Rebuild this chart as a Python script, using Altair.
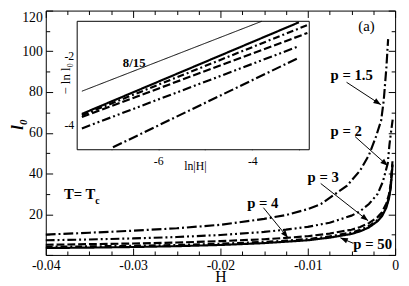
import math
import altair as alt
import pandas as pd

# ---------------- values ----------------
# main panel: l0 versus H, one series per p
H_p1_5 = [-0.04, -0.035, -0.03, -0.025, -0.02, -0.015, -0.0125, -0.01, -0.0085, -0.007,
          -0.0055, -0.004, -0.003, -0.0022, -0.0016, -0.0013, -0.001, -0.0008]
l0_p1_5 = [10.0, 10.9, 11.9, 13.1, 14.8, 17.7, 19.6, 22.5, 25.0, 29.5,
           34.0, 41.5, 49.0, 58.0, 66.0, 76.0, 92.0, 106.0]

H_p2 = [-0.04, -0.035, -0.03, -0.025, -0.02, -0.015, -0.0125, -0.01, -0.0075, -0.005,
        -0.004, -0.003, -0.002, -0.0014, -0.00084, -0.00065, -0.00045, -0.00028]
l0_p2 = [7.2, 7.6, 8.1, 8.8, 9.8, 11.3, 12.4, 13.8, 15.8, 19.3,
         21.5, 25.0, 30.0, 36.0, 45.0, 54.0, 61.0, 66.5]

H_low = [-0.04, -0.035, -0.03, -0.025, -0.02, -0.015, -0.0125, -0.01, -0.0075, -0.005,
         -0.004, -0.003, -0.002, -0.0015, -0.001, -0.0007, -0.0005, -0.0003]
l0_p3 = [5.0, 5.3, 5.6, 6.1, 6.8, 7.7, 8.4, 9.2, 10.5, 12.4,
         13.7, 15.6, 18.6, 21.0, 25.3, 29.8, 35.0, 46.0]
l0_p4 = [4.0, 4.2, 4.5, 4.9, 5.5, 6.4, 7.0, 7.8, 9.1, 11.0,
         12.3, 14.2, 17.2, 19.6, 23.9, 28.4, 33.5, 44.5]
l0_p50 = [3.4, 3.6, 3.9, 4.3, 4.9, 5.8, 6.5, 7.2, 8.5, 10.3,
          11.6, 13.5, 16.6, 19.0, 23.3, 27.8, 33.0, 44.0]

# inset: -ln l0 versus ln|H| (straight lines, end points)
inset_names = ["8/15", "1.5", "2", "3", "4", "50"]
inset_x_start = [-7.62, -6.96, -7.62, -7.62, -7.62, -7.62]
inset_y_start = [-3.02, -4.65, -4.10, -3.77, -3.72, -3.68]
inset_x_end = [-3.80, -3.00, -3.04, -2.83, -2.83, -3.01]
inset_y_end = [-0.99, -2.04, -1.73, -1.33, -1.10, -1.02]

# annotations (main panel data coordinates)
ann_text = ["p = 1.5", "p = 2", "p = 3", "p = 4", "p = 50"]
ann_H = [-0.00739, -0.00739, -0.01002, -0.01694, -0.00478]
ann_v = [85.9, 58.6, 35.7, 22.9, 2.9]
arrow_H0 = [-0.00556, -0.00458, -0.00852, -0.01508, -0.00478]
arrow_v0 = [84.8, 58.1, 35.1, 23.2, 5.7]
arrow_H1 = [-0.00163, -0.00084, -0.00309, -0.01227, -0.00627]
arrow_v1 = [73.8, 43.8, 16.8, 8.4, 8.4]

# tick values and labels
x_major = [-0.04, -0.03, -0.02, -0.01, 0.0]
x_major_labels = ["-0.04", "-0.03", "-0.02", "-0.01", "0"]
x_minor = [-0.0375, -0.035, -0.0325, -0.0275, -0.025, -0.0225, -0.0175, -0.015,
           -0.0125, -0.0075, -0.005, -0.0025]
y_major = [0, 20, 40, 60, 80, 100, 120]
y_major_labels = ["", "20", "40", "60", "80", "100", "120"]
y_minor = [10, 30, 50, 70, 90, 110]
ix_major = [-6, -4]
ix_major_labels = ["-6", "-4"]
ix_minor = [-7, -5, -3]
iy_major = [-4, -2]
iy_major_labels = ["-4", "-2"]
iy_minor = [-3]

# ---------------- layout / style ----------------
PW, PH = 356, 249
FONT = "Liberation Serif"
X_DOM = [-0.04, 0.0]
Y_DOM = [0, 120]
IX_DOM = [-7.72, -2.79]
IY_DOM = [-4.72, -0.99]
IX_RANGE = [32.0, 268.5]
IY_RANGE = [141.8, 10.9]

style_names = ["8/15", "1.5", "2", "3", "4", "50"]
style_dash = [[1, 0], [10, 3, 2, 3], [9, 3, 2, 3, 2, 3], [8, 3], [7, 3, 2, 3], [1, 0]]


def neg(n):
    return alt.ExprRef(expr=str(-n))


def label_expr(values, labels):
    vals = ",".join(repr(float(v)) for v in values)
    labs = ",".join("'" + s + "'" for s in labels)
    return f"[{labs}][indexof([{vals}], datum.value)]"


dash_enc = alt.StrokeDash("s:N", scale=alt.Scale(domain=style_names, range=style_dash), legend=None)
width_enc = alt.condition("datum.s == '8/15'", alt.value(1), alt.value(2.2))

# ---------------- data frames ----------------
rows = []
for name, hs, ls in [("1.5", H_p1_5, l0_p1_5), ("2", H_p2, l0_p2), ("3", H_low, l0_p3),
                     ("4", H_low, l0_p4), ("50", H_low, l0_p50)]:
    for h, l in zip(hs, ls):
        rows.append({"s": name, "H": h, "l0": l})
curves_df = pd.DataFrame(rows)

sx = PW / (X_DOM[1] - X_DOM[0])
sy = PH / (Y_DOM[1] - Y_DOM[0])
angles = []
for h0, v0, h1, v1 in zip(arrow_H0, arrow_v0, arrow_H1, arrow_v1):
    dx = (h1 - h0) * sx
    dy = -(v1 - v0) * sy
    angles.append(math.degrees(math.atan2(dy, dx)) % 360)
arrows_df = pd.DataFrame({"H0": arrow_H0, "v0": arrow_v0, "H1": arrow_H1,
                          "v1": arrow_v1, "ang": angles})
ann_df = pd.DataFrame({"text": ann_text, "H": ann_H, "v": ann_v})

irows = []
for n, xa, ya, xb, yb in zip(inset_names, inset_x_start, inset_y_start, inset_x_end, inset_y_end):
    irows.append({"s": n, "x": xa, "y": ya})
    irows.append({"s": n, "x": xb, "y": yb})
inset_df = pd.DataFrame(irows)

# ---------------- main panel ----------------
xs = alt.Scale(domain=X_DOM, nice=False, zero=False)
ys = alt.Scale(domain=Y_DOM, nice=False, zero=False)

curves = alt.Chart(curves_df).mark_line(color="black").encode(
    x=alt.X("H:Q", scale=xs, axis=None),
    y=alt.Y("l0:Q", scale=ys, axis=None),
    detail="s:N",
    strokeDash=dash_enc,
    strokeWidth=width_enc,
    order="H:Q",
)

rules = alt.Chart(arrows_df).mark_rule(color="black", strokeWidth=1).encode(
    x=alt.X("H0:Q", scale=xs, axis=None),
    y=alt.Y("v0:Q", scale=ys, axis=None),
    x2="H1:Q",
    y2="v1:Q",
)

heads = alt.Chart(arrows_df).mark_point(
    shape="M0,0L-1,-0.38L-1,0.38Z", filled=True, color="black", opacity=1,
    size=230, strokeWidth=0,
).encode(
    x=alt.X("H1:Q", scale=xs, axis=None),
    y=alt.Y("v1:Q", scale=ys, axis=None),
    angle=alt.Angle("ang:Q", scale=None),
)

ptext = alt.Chart(ann_df).mark_text(
    align="left", baseline="alphabetic", font=FONT, fontSize=15, fontWeight="bold", color="black"
).encode(
    x=alt.X("H:Q", scale=xs, axis=None),
    y=alt.Y("v:Q", scale=ys, axis=None),
    text="text:N",
)

misc_df = pd.DataFrame({"text": ["(a)"], "H": [-0.00421], "v": [110.0]})
atext = alt.Chart(misc_df).mark_text(
    align="left", baseline="alphabetic", font=FONT, fontSize=15, color="black"
).encode(x=alt.X("H:Q", scale=xs, axis=None), y=alt.Y("v:Q", scale=ys, axis=None), text="text:N")

t_df = pd.DataFrame({"text": ["T= T"], "H": [-0.03792], "v": [27.6]})
ttext = alt.Chart(t_df).mark_text(
    align="left", baseline="alphabetic", font=FONT, fontSize=15, fontWeight="bold", color="black"
).encode(x=alt.X("H:Q", scale=xs, axis=None), y=alt.Y("v:Q", scale=ys, axis=None), text="text:N")

c_df = pd.DataFrame({"text": ["c"], "H": [-0.03433], "v": [24.8]})
ctext = alt.Chart(c_df).mark_text(
    align="left", baseline="alphabetic", font=FONT, fontSize=10, fontWeight="bold", color="black"
).encode(x=alt.X("H:Q", scale=xs, axis=None), y=alt.Y("v:Q", scale=ys, axis=None), text="text:N")

axbase = alt.Chart(curves_df).mark_point(opacity=0)

ax_major = axbase.encode(
    x=alt.X("H:Q", scale=xs, axis=alt.Axis(
        orient="bottom", values=x_major, labelExpr=label_expr(x_major, x_major_labels),
        tickSize=neg(7), labelPadding=10.5, labelFlush=False, domain=False,
        labelFont=FONT, labelFontSize=14, labelColor="black",
        title="H", titleFont=FONT, titleFontSize=16, titleY=27, titleBaseline="alphabetic",
        titleFontWeight="normal", titleColor="black")),
    y=alt.Y("l0:Q", scale=ys, axis=alt.Axis(
        orient="left", values=y_major, labelExpr=label_expr(y_major, y_major_labels),
        tickSize=neg(7), labelPadding=10.5, labelFlush=True, domain=False,
        labelFont=FONT, labelFontSize=14, labelColor="black",
        title="l₀", titleFont=FONT, titleFontSize=18, titleFontStyle="italic",
        titleFontWeight="bold", titleColor="black",
        titleX=-29, titleY=115.6, titleAngle=270, titleAlign="center",
        titleBaseline="middle")),
)
ax_minor = axbase.encode(
    x=alt.X("H:Q", scale=xs, title=None, axis=alt.Axis(
        orient="bottom", values=x_minor, tickSize=neg(4), labels=False, domain=False)),
    y=alt.Y("l0:Q", scale=ys, title=None, axis=alt.Axis(
        orient="left", values=y_minor, tickSize=neg(4), labels=False, domain=False)),
)
ax_major_tr = axbase.encode(
    x=alt.X("H:Q", scale=xs, title=None, axis=alt.Axis(
        orient="top", values=x_major, tickSize=neg(7), labels=False, domain=False)),
    y=alt.Y("l0:Q", scale=ys, title=None, axis=alt.Axis(
        orient="right", values=y_major, tickSize=neg(7), labels=False, domain=False)),
)
ax_minor_tr = axbase.encode(
    x=alt.X("H:Q", scale=xs, title=None, axis=alt.Axis(
        orient="top", values=x_minor, tickSize=neg(4), labels=False, domain=False)),
    y=alt.Y("l0:Q", scale=ys, title=None, axis=alt.Axis(
        orient="right", values=y_minor, tickSize=neg(4), labels=False, domain=False)),
)

main = alt.layer(
    curves, rules, heads, ptext, atext, ttext, ctext,
    ax_major, ax_minor, ax_major_tr, ax_minor_tr,
).resolve_axis(x="independent", y="independent")

# ---------------- inset ----------------
ixs = alt.Scale(domain=IX_DOM, range=IX_RANGE, nice=False, zero=False)
iys = alt.Scale(domain=IY_DOM, range=IY_RANGE, nice=False, zero=False)

frame_df = pd.DataFrame({"x0": [IX_DOM[0]], "x1": [IX_DOM[1]], "y0": [IY_DOM[0]], "y1": [IY_DOM[1]]})
frame = alt.Chart(frame_df).mark_rect(fill="white", stroke="black", strokeWidth=1).encode(
    x=alt.X("x0:Q", scale=ixs, axis=None),
    x2="x1:Q",
    y=alt.Y("y0:Q", scale=iys, axis=None),
    y2="y1:Q",
)

ilines = alt.Chart(inset_df).mark_line(color="black").encode(
    x=alt.X("x:Q", scale=ixs, axis=None),
    y=alt.Y("y:Q", scale=iys, axis=None),
    detail="s:N",
    strokeDash=dash_enc,
    strokeWidth=width_enc,
)

i815_df = pd.DataFrame({"text": ["8/15"], "x": [-6.75], "y": [-2.32]})
i815 = alt.Chart(i815_df).mark_text(
    align="left", baseline="alphabetic", font=FONT, fontSize=13, fontWeight="bold", color="black"
).encode(x=alt.X("x:Q", scale=ixs, axis=None), y=alt.Y("y:Q", scale=iys, axis=None), text="text:N")

iyt_df = pd.DataFrame({"text": ["− ln l₀"], "x": [-7.96], "y": [-2.66]})
iyt = alt.Chart(iyt_df).mark_text(
    align="center", baseline="middle", angle=270, font=FONT, fontSize=13, color="black"
).encode(x=alt.X("x:Q", scale=ixs, axis=None), y=alt.Y("y:Q", scale=iys, axis=None), text="text:N")

ixt_df = pd.DataFrame({"text": ["ln|H|"], "x": [-5.21], "y": [-5.18]})
ixt = alt.Chart(ixt_df).mark_text(
    align="center", baseline="middle", font=FONT, fontSize=12, color="black"
).encode(x=alt.X("x:Q", scale=ixs, axis=None), y=alt.Y("y:Q", scale=iys, axis=None), text="text:N")

ibase = alt.Chart(inset_df).mark_point(opacity=0)
x_off = -IX_RANGE[0]
y_off = IY_RANGE[0] - PH
iax_major = ibase.encode(
    x=alt.X("x:Q", scale=ixs, title=None, axis=alt.Axis(
        orient="bottom", offset=y_off, values=ix_major,
        labelExpr=label_expr(ix_major, ix_major_labels), tickSize=neg(6),
        labelPadding=12, labelFlush=False, labelFont=FONT, labelFontSize=12,
        labelColor="black", domain=False)),
    y=alt.Y("y:Q", scale=iys, title=None, axis=alt.Axis(
        orient="left", offset=x_off, values=iy_major,
        labelExpr=label_expr(iy_major, iy_major_labels), tickSize=neg(6),
        labelPadding=9.5, labelFont=FONT, labelFontSize=12, labelColor="black",
        domain=False)),
)
iax_minor = ibase.encode(
    x=alt.X("x:Q", scale=ixs, title=None, axis=alt.Axis(
        orient="bottom", offset=y_off, values=ix_minor, tickSize=neg(3),
        labels=False, domain=False)),
    y=alt.Y("y:Q", scale=iys, title=None, axis=alt.Axis(
        orient="left", offset=x_off, values=iy_minor, tickSize=neg(3),
        labels=False, domain=False)),
)

inset = alt.layer(
    frame, ilines, i815, iyt, ixt, iax_major, iax_minor
).resolve_axis(x="independent", y="independent")

chart = alt.layer(main, inset).resolve_scale(
    x="independent", y="independent"
).properties(
    width=PW, height=PH,
    autosize=alt.AutoSizeParams(type="none"),
    padding={"left": 38.5, "right": 6, "top": 0, "bottom": 29},
).configure_view(
    stroke="black", strokeWidth=1
).configure_axis(
    grid=False, labelFont=FONT, labelFontSize=14, labelColor="black",
    titleFont=FONT, titleColor="black", tickColor="black", tickWidth=1,
)

chart.save("out.html", embed_options={"renderer": "svg", "actions": False})
